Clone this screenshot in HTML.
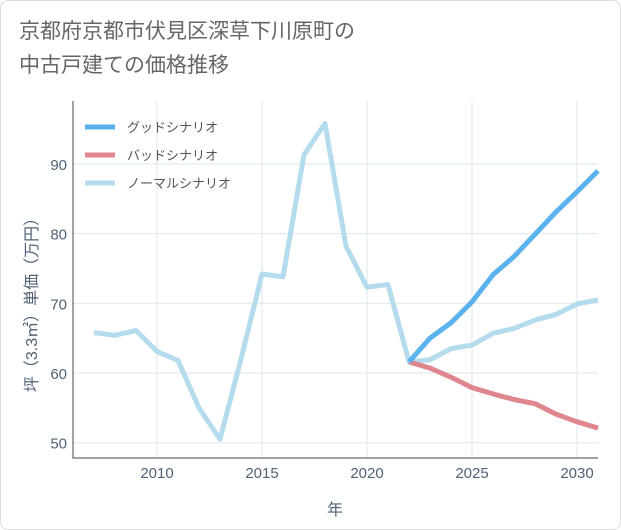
<!DOCTYPE html>
<html><head><meta charset="utf-8"><style>
body{margin:0;background:#fff;font-family:"Liberation Sans","Noto Sans CJK JP",sans-serif}
#wrap{position:relative;width:619px;height:528px;border:1px solid #ddd;border-radius:8px;overflow:hidden}
#title{position:absolute;left:18px;top:14px;font-size:21px;line-height:34px;color:#666}
</style></head><body>
<div id="wrap">
<div id="title">京都府京都市伏見区深草下川原町の<br>中古戸建ての価格推移</div>
<svg id="svg" width="621" height="530" style="position:absolute;left:0;top:0"></svg>
</div>
<script>
const years=[2007,2008,2009,2010,2011,2012,2013,2014,2015,2016,2017,2018,2019,2020,2021,2022,2023,2024,2025,2026,2027,2028,2029,2030,2031];
const normalVals=[65.8,65.4,66.1,63.1,61.8,55,50.5,62,74.2,73.8,91.3,95.8,78.2,72.3,72.7,61.6,61.9,63.5,64,65.7,66.4,67.6,68.4,69.9,70.5];
const futureYears=[2022,2023,2024,2025,2026,2027,2028,2029,2030,2031];
const goodVals=[61.6,65,67.2,70.2,74.1,76.7,79.9,83.1,86,89];
const badVals=[61.6,60.7,59.4,57.9,57,56.2,55.6,54.1,53,52.1];
const xTicks=[2010,2015,2020,2025,2030];
const yTicks=[50,60,70,80,90];
const NS="http://www.w3.org/2000/svg";
const svg=document.getElementById('svg');
const L=72,R=597,T=100,B=457;
const TC='#4f6275';
const x=v=>156+(v-2010)*21;
const y=v=>372-(v-60)*6.97;
function mk(t,a){const e=document.createElementNS(NS,t);for(const k in a)e.setAttribute(k,a[k]);svg.appendChild(e);return e;}
xTicks.forEach(t=>{
const g=mk('line',{x1:x(t),x2:x(t),y1:T,y2:B,stroke:'#dde6ee'});


const l=mk('text',{x:x(t),y:B+20,'text-anchor':'middle','font-size':15,fill:TC});l.textContent=t;


});
yTicks.forEach(t=>{
const g=mk('line',{x1:L,x2:R,y1:y(t),y2:y(t),stroke:'#dde6ee'});


const l=mk('text',{x:L-6,y:y(t)+6,'text-anchor':'end','font-size':15,fill:TC});l.textContent=t;


});
const ax=mk('path',{d:`M${L},${T}V${B}H${R}`,stroke:'#444',fill:'none','stroke-width':1});


function series(xs,vs,c,n){const p=mk('polyline',{points:xs.map((t,i)=>x(t)+','+y(vs[i])).join(' '),fill:'none',stroke:c,'stroke-width':5,'stroke-linejoin':'round'});

}
series(years,normalVals,'#b5dcec','normal-scenario-line');
series(futureYears,badVals,'#e0868f','bad-scenario-line');
series(futureYears,goodVals,'#5ab3ec','good-scenario-line');
[['グッドシナリオ','#5ab3ec',126],['バッドシナリオ','#e0868f',154],['ノーマルシナリオ','#b5dcec',182]].forEach((d,i)=>{
const l=mk('line',{x1:84,x2:114,y1:d[2],y2:d[2],stroke:d[1],'stroke-width':5});


const t=mk('text',{x:126,y:d[2]+5,'font-size':13,fill:'#555'});t.textContent=d[0];


});
const xl=mk('text',{x:334,y:514,'text-anchor':'middle','font-size':16,fill:TC});xl.textContent='年';


const yl=mk('text',{x:0,y:0,'text-anchor':'middle','font-size':16,fill:TC,transform:'translate(36,300) rotate(-90)'});yl.textContent='坪（3.3㎡）単価（万円）';


</script>
</body></html>
